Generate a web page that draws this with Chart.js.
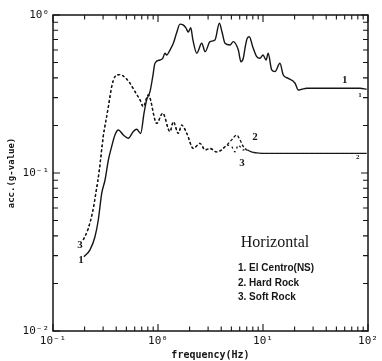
<!DOCTYPE html>
<html>
<head>
<meta charset="utf-8">
<script src="https://cdn.jsdelivr.net/npm/chart.js@4.4.0/dist/chart.umd.min.js"></script>
<style>
html, body { margin: 0; padding: 0; background: #fff; }
</style>
</head>
<body>
<canvas id="spectre" width="382" height="361"></canvas>
<script>
// Spectres de réponse (horizontal)
var decadesX = [0.1, 1, 10, 100];
var decadesY = [0.01, 0.1, 1];
var labelsX = ['10\u207B\u00B9', '10\u2070', '10\u00B9', '10\u00B2'];
var labelsY = ['10\u207B\u00B2', '10\u207B\u00B9', '10\u2070'];

// 1. El Centro (NS)
var freqElCentro = [0.197, 0.225, 0.251, 0.270, 0.291, 0.313, 0.337, 0.362, 0.389, 0.419, 0.468, 0.521, 0.582, 0.627, 0.684, 0.736, 0.780, 0.839, 0.891, 0.936,
    1.045, 1.109, 1.166, 1.21, 1.30, 1.40, 1.50, 1.62, 1.73, 1.85, 1.94, 2.05, 2.15, 2.34, 2.61, 2.81, 3.13, 3.49, 3.84, 4.07,
    4.35, 4.85, 5.21, 5.82, 6.17, 6.49, 6.74, 7.08, 7.41, 7.98, 8.71, 9.36, 10.0, 10.7, 11.2, 12.1, 13.0, 14.5, 15.6, 17.4,
    20.2, 21.7, 23.4, 26.1, 46.8, 84, 97];
var accElCentro = [0.0295, 0.0326, 0.0395, 0.0504, 0.0744, 0.0903, 0.121, 0.147, 0.174, 0.187, 0.174, 0.166, 0.183, 0.189, 0.178, 0.239, 0.290, 0.327, 0.407, 0.495,
    0.519, 0.532, 0.573, 0.558, 0.600, 0.662, 0.766, 0.875, 0.865, 0.827, 0.78, 0.83, 0.695, 0.573, 0.662, 0.586, 0.678, 0.695, 0.886, 0.78,
    0.662, 0.646, 0.678, 0.60, 0.506, 0.532, 0.618, 0.712, 0.729, 0.630, 0.545, 0.532, 0.558, 0.519, 0.573, 0.449, 0.438, 0.495, 0.417, 0.397,
    0.37, 0.335, 0.339, 0.344, 0.344, 0.344, 0.339];

// 2. Hard Rock
var freqHard = [0.194, 0.217, 0.238, 0.257, 0.276, 0.301, 0.337, 0.362, 0.389, 0.43, 0.47, 0.541, 0.604, 0.675, 0.724, 0.809, 0.973, 1.109, 1.30, 1.40,
    1.56, 1.68, 1.88, 2.17, 2.51, 2.81, 3.13, 3.62, 4.04, 4.51, 5.03, 5.62, 6.04, 6.49, 7.0, 7.8, 8.71, 10.8, 22.5, 84, 97];
var accHard = [0.0377, 0.0447, 0.0566, 0.0758, 0.104, 0.170, 0.263, 0.352, 0.407, 0.42, 0.41, 0.370, 0.327, 0.290, 0.263, 0.312, 0.206, 0.239, 0.183, 0.211,
    0.178, 0.201, 0.178, 0.143, 0.154, 0.140, 0.143, 0.136, 0.140, 0.150, 0.162, 0.174, 0.162, 0.147, 0.140, 0.136, 0.134, 0.133, 0.133, 0.133, 0.133];

// 3. Soft Rock
var freqSoft = [0.194, 0.217, 0.238, 0.257, 0.276, 0.301, 0.337, 0.362, 0.389, 0.43, 0.47, 0.541, 0.604, 0.675, 0.724, 0.809, 0.973, 1.109, 1.30, 1.40,
    1.56, 1.68, 1.88, 2.17, 2.51, 2.81, 3.13, 3.62, 4.04, 4.51, 5.03, 5.41, 5.82, 6.49, 7.0, 7.8, 8.71, 10.8, 22.5, 84, 97];
var accSoft = [0.0377, 0.0447, 0.0566, 0.0758, 0.104, 0.170, 0.263, 0.352, 0.407, 0.42, 0.41, 0.370, 0.327, 0.290, 0.263, 0.312, 0.206, 0.239, 0.183, 0.211,
    0.178, 0.201, 0.178, 0.143, 0.154, 0.140, 0.143, 0.136, 0.140, 0.150, 0.147, 0.136, 0.150, 0.140, 0.140, 0.136, 0.134, 0.133, 0.133, 0.133, 0.133];

function points(f, a) {
    return f.map(function (v, i) { return { x: v, y: a[i] }; });
}

var encre = '#151515';
var mono = 'DejaVu Sans Mono';

// Cadre + graduations vers l'intérieur, étiquettes des courbes et texte
var cadre = {
    id: 'cadre',
    afterDraw: function (chart) {
        var ctx = chart.ctx, a = chart.chartArea, x = chart.scales.x, y = chart.scales.y;
        ctx.save();
        ctx.strokeStyle = encre;
        ctx.lineWidth = 1.5;
        ctx.strokeRect(a.left, a.top, a.right - a.left, a.bottom - a.top);
        ctx.lineWidth = 1.1;
        ctx.beginPath();
        [0.1, 1, 10].forEach(function (d) {
            for (var k = 1; k <= 10; k++) {
                var px = x.getPixelForValue(d * k), len = (k === 1 || k === 10) ? 7 : 4.5;
                ctx.moveTo(px, a.bottom); ctx.lineTo(px, a.bottom - len);
                ctx.moveTo(px, a.top); ctx.lineTo(px, a.top + len);
            }
        });
        [0.01, 0.1].forEach(function (d) {
            for (var k = 1; k <= 10; k++) {
                var py = y.getPixelForValue(d * k), len = (k === 1 || k === 10) ? 7 : 5;
                ctx.moveTo(a.left, py); ctx.lineTo(a.left + len, py);
                ctx.moveTo(a.right, py); ctx.lineTo(a.right - len, py);
            }
        });
        ctx.stroke();

        ctx.fillStyle = encre;
        ctx.textAlign = 'center';
        ctx.textBaseline = 'middle';
        ctx.font = 'bold 11px "Liberation Serif"';
        ctx.fillText('1', x.getPixelForValue(60), y.getPixelForValue(0.388));
        ctx.fillText('2', x.getPixelForValue(8.4), y.getPixelForValue(0.169));
        ctx.fillText('3', x.getPixelForValue(6.3), y.getPixelForValue(0.116));
        ctx.fillText('3', x.getPixelForValue(0.181), y.getPixelForValue(0.035));
        ctx.fillText('1', x.getPixelForValue(0.185), y.getPixelForValue(0.0281));
        ctx.font = 'bold 7px "Liberation Serif"';
        ctx.fillText('1', x.getPixelForValue(84), y.getPixelForValue(0.312));
        ctx.fillText('2', x.getPixelForValue(80), y.getPixelForValue(0.126));

        ctx.font = '16px "Liberation Serif"';
        ctx.fillText('Horizontal', a.left + 222, a.top + 228);
        ctx.textAlign = 'left';
        ctx.font = 'bold 10px "Liberation Sans"';
        ctx.fillText('1. El Centro(NS)', a.left + 185, a.top + 253);
        ctx.fillText('2. Hard Rock', a.left + 185, a.top + 268);
        ctx.fillText('3. Soft Rock', a.left + 185, a.top + 282);
        ctx.restore();
    }
};

var chart = new Chart(document.getElementById('spectre').getContext('2d'), {
    type: 'line',
    data: {
        datasets: [{
            label: '1. El Centro(NS)',
            data: points(freqElCentro, accElCentro),
            borderColor: encre,
            borderWidth: 1.4,
            pointRadius: 0,
            cubicInterpolationMode: 'monotone'
        }, {
            label: '2. Hard Rock',
            data: points(freqHard, accHard),
            borderColor: encre,
            borderWidth: 1.3,
            borderDash: [3, 2],
            pointRadius: 0,
            cubicInterpolationMode: 'monotone'
        }, {
            label: '3. Soft Rock',
            data: points(freqSoft, accSoft),
            borderColor: encre,
            borderWidth: 1.3,
            borderDash: [2, 3],
            pointRadius: 0,
            cubicInterpolationMode: 'monotone'
        }]
    },
    options: {
        responsive: false,
        animation: false,
        layout: { padding: { top: 15, right: 14, left: 0, bottom: 0 } },
        plugins: { legend: { display: false }, tooltip: { enabled: false } },
        scales: {
            x: {
                type: 'logarithmic',
                min: 0.1,
                max: 100,
                afterBuildTicks: function (s) { s.ticks = decadesX.map(function (v) { return { value: v }; }); },
                afterFit: function (s) { s.height = 30; },
                grid: { display: false, drawTicks: false, tickLength: 0 },
                border: { display: false },
                ticks: {
                    autoSkip: false,
                    maxRotation: 0,
                    padding: 4,
                    color: encre,
                    font: { family: mono, size: 11 },
                    callback: function (v) { return labelsX[decadesX.indexOf(v)]; }
                },
                title: {
                    display: true,
                    text: 'frequency(Hz)',
                    color: encre,
                    font: { family: mono, size: 10, weight: 'bold' },
                    padding: { top: 0, bottom: 0 }
                }
            },
            y: {
                type: 'logarithmic',
                min: 0.01,
                max: 1,
                afterBuildTicks: function (s) { s.ticks = decadesY.map(function (v) { return { value: v }; }); },
                afterFit: function (s) { s.width = 53; },
                grid: { display: false, drawTicks: false, tickLength: 0 },
                border: { display: false },
                ticks: {
                    autoSkip: false,
                    padding: 4,
                    color: encre,
                    font: { family: mono, size: 11 },
                    callback: function (v) { return labelsY[decadesY.indexOf(v)]; }
                },
                title: {
                    display: true,
                    text: 'acc.(g-value)',
                    color: encre,
                    font: { family: mono, size: 9, weight: 'bold' },
                    padding: { top: 6, bottom: 0 }
                }
            }
        }
    },
    plugins: [cadre]
});
</script>
</body>
</html>
